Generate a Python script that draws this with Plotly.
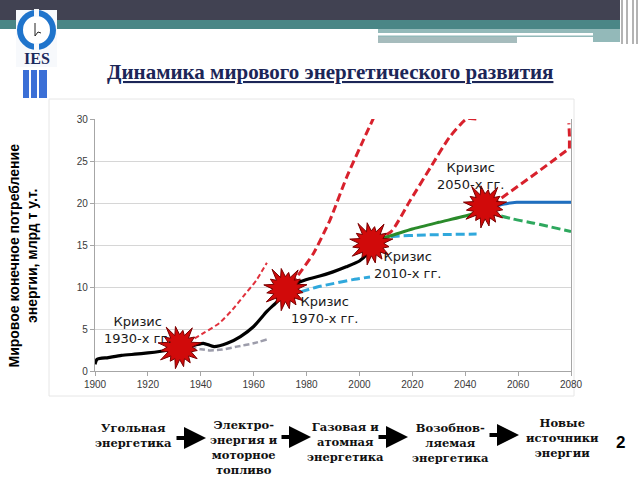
import numpy as np
import plotly.graph_objects as go

# ---------------- data ----------------
x_ticks = [1900, 1920, 1940, 1960, 1980, 2000, 2020, 2040, 2060, 2080]
y_ticks = [0, 5, 10, 15, 20, 25, 30]

main_years = [1900, 1900.8, 1905, 1910, 1915, 1920, 1925, 1930, 1935, 1938, 1941, 1945, 1950,
              1955, 1960, 1965, 1969, 1972, 1976, 1980, 1985, 1990, 1995, 2000, 2003, 2005]
main_vals = [0.8, 1.4, 1.6, 1.85, 2.0, 2.15, 2.35, 2.6, 2.9, 3.1, 3.3, 2.9, 3.3,
             4.1, 5.3, 7.1, 8.3, 9.4, 10.4, 10.9, 11.3, 11.8, 12.4, 13.1, 14.0, 15.0]

red1930_years = [1935, 1941, 1947, 1952, 1956, 1961, 1965]
red1930_vals = [3.4, 4.5, 5.7, 7.3, 8.85, 10.8, 12.9]

gray1930_years = [1936, 1940, 1943.5, 1948, 1953.6, 1960, 1965]
gray1930_vals = [2.85, 2.6, 2.45, 2.55, 2.9, 3.3, 3.75]

red1970_years = [1974, 1976.3, 1982.6, 1988.9, 1995.2, 2001.5, 2005.3]
red1970_vals = [10.3, 11.2, 14.0, 18.0, 23.1, 27.5, 30.1]

blue1970_years = [1973, 1977.5, 1984, 1990, 1997, 2004]
blue1970_vals = [9.0, 9.4, 10.0, 10.4, 10.85, 11.2]

red2010_years = [2006, 2012, 2019, 2027, 2034, 2040.5, 2044.5]
red2010_vals = [15.6, 16.6, 20.2, 24.3, 27.8, 30.0, 30.0]

blue2010_years = [2007, 2012, 2025, 2044.3]
blue2010_vals = [15.8, 16.0, 16.2, 16.3]

green_years = [2005, 2011.6, 2020, 2030, 2041.8, 2047]
green_vals = [15.5, 16.07, 16.9, 17.7, 18.6, 19.2]

red2050_years = [2050, 2054.4, 2067, 2079.4, 2079.4, 2079.2]
red2050_vals = [19.8, 20.75, 23.6, 26.5, 28.0, 29.5]

blue2050_years = [2048, 2053.2, 2056, 2059.5, 2070, 2080]
blue2050_vals = [19.6, 19.76, 19.95, 20.08, 20.1, 20.1]

gdash2050_years = [2049, 2052, 2058, 2066, 2080]
gdash2050_vals = [19.0, 18.6, 18.1, 17.6, 16.6]

crisis_years = [1932, 1972, 2004.5, 2047.5]
crisis_vals = [2.85, 9.75, 15.2, 19.6]
crisis_labels = ["Кризис<br>1930-х гг.", "Кризис<br>1970-х гг.",
                 "Кризис<br>2010-х гг.", "Кризис<br>2050-х гг."]

stages = ["Угольная<br>энергетика",
          "Электро-<br>энергия и<br>моторное<br>топливо",
          "Газовая и<br>атомная<br>энергетика",
          "Возобнов-<br>ляемая<br>энергетика",
          "Новые<br>источники<br>энергии"]

title_text = "Динамика мирового энергетического развития"
ytitle_lines = ["Мировое конечное потребление", "энергии, млрд т у.т."]
page_number = "2"

# ---------------- geometry helpers ----------------
W, H = 640, 480
L, R, T, B = 95, 571, 119, 371
XMIN, XMAX, YMIN, YMAX = 1900, 2080, 0, 30
px_per_year = (R - L) / (XMAX - XMIN)
px_per_unit = (B - T) / (YMAX - YMIN)


def PX(px):
    return (px - L) / (R - L)


def PY(py):
    return (B - py) / (B - T)


fig = go.Figure()


def line(xs, ys, color, width, dash=None, smooth=True):
    fig.add_trace(go.Scatter(x=xs, y=ys, mode="lines",
                             line=dict(color=color, width=width, dash=dash,
                                       shape="spline" if smooth else "linear", smoothing=0.6),
                             hoverinfo="skip", showlegend=False))


line(gray1930_years, gray1930_vals, "#9d9dab", 2.5, "6px,3px")
line(red1930_years, red1930_vals, "#e0313c", 2, "5px,3px")
line(blue1970_years, blue1970_vals, "#30a8dc", 3, "9px,4px")
line(red1970_years, red1970_vals, "#d8212c", 3, "8px,4px")
line(blue2010_years, blue2010_vals, "#30a8dc", 3, "9px,4px")
line(red2010_years, red2010_vals, "#d8212c", 3, "8px,4px")
line(green_years, green_vals, "#2a8a2a", 3)
line(red2050_years, red2050_vals, "#d8212c", 3, "8px,4px", smooth=False)
line(gdash2050_years, gdash2050_vals, "#2ea85e", 3, "9px,4px")
line(blue2050_years, blue2050_vals, "#1f6fc0", 3)
line(main_years, main_vals, "#000000", 3.2)

# starbursts
outer = [22, 18, 23, 17, 21, 24, 18, 22, 19, 23, 17, 22, 20, 19, 21, 18]
inner = 12.5
n = len(outer)
for cy, cv in zip(crisis_years, crisis_vals):
    xs, ys = [], []
    for k in range(2 * n):
        a = np.pi * k / n + 0.2
        r = outer[k // 2] if k % 2 == 0 else inner
        xs.append(cy + r * np.cos(a) / px_per_year)
        ys.append(cv + r * np.sin(a) / px_per_unit)
    xs.append(xs[0]); ys.append(ys[0])
    fig.add_trace(go.Scatter(x=xs, y=ys, mode="lines", fill="toself", fillcolor="#d10a0a",
                             line=dict(color="#7a0000", width=1), hoverinfo="skip", showlegend=False))

annotations = []
label_px = [(137, 330), (324, 310), (407, 265), (470, 176)]
for txt, (lx, ly) in zip(crisis_labels, label_px):
    annotations.append(dict(x=PX(lx), y=PY(ly), xref="paper", yref="paper", text=txt, showarrow=False,
                            font=dict(family="DejaVu Sans", size=13, color="#1a1a1a"),
                            xanchor="center", yanchor="middle", align="center"))

# title
annotations.append(dict(x=PX(330), y=PY(72), xref="paper", yref="paper",
                        text="<b><u>" + title_text + "</u></b>", showarrow=False,
                        font=dict(family="Liberation Serif, Times New Roman", size=21, color="#1c2657"),
                        xanchor="center", yanchor="middle"))

# y title
for txt, cx in zip(ytitle_lines, [13.5, 32]):
    annotations.append(dict(x=PX(cx), y=PY(256), xref="paper", yref="paper", text="<b>" + txt + "</b>",
                            showarrow=False, textangle=-90,
                            font=dict(family="Liberation Sans, Arial", size=14, color="#000000"),
                            xanchor="center", yanchor="middle"))

# stage texts
stage_pos = [(133, 435.5), (244, 447), (345, 442), (450, 443.5), (562, 438)]
for t, (sx, sy) in zip(stages, stage_pos):
    annotations.append(dict(x=PX(sx), y=PY(sy), xref="paper", yref="paper", text="<b>" + t + "</b>",
                            showarrow=False, align="center",
                            font=dict(family="DejaVu Serif", size=11.5, color="#111111"),
                            xanchor="center", yanchor="middle"))

# arrows
for tipx, tipy in [(206, 438), (311, 437), (408, 437), (519, 435)]:
    annotations.append(dict(x=PX(tipx), y=PY(tipy), xref="paper", yref="paper", ax=-31, ay=0,
                            text="", showarrow=True, arrowhead=2, arrowsize=1.1, arrowwidth=4,
                            arrowcolor="#000000"))

annotations.append(dict(x=PX(620), y=PY(443), xref="paper", yref="paper", text="<b>" + page_number + "</b>",
                        showarrow=False, font=dict(family="Liberation Sans, Arial", size=17, color="#000000"),
                        xanchor="center", yanchor="middle"))

annotations.append(dict(x=PX(36.5), y=PY(59), xref="paper", yref="paper", text="<b>IES</b>",
                        showarrow=False, font=dict(family="Liberation Serif, Times New Roman", size=16,
                                                   color="#1b2a5c"),
                        xanchor="center", yanchor="middle"))

shapes = []


def rect(x0, y0, x1, y1, fill, line_color=None, lw=0):
    shapes.append(dict(type="rect", xref="paper", yref="paper",
                       x0=PX(x0), x1=PX(x1), y0=PY(y1), y1=PY(y0),
                       fillcolor=fill, line=dict(width=lw, color=line_color or fill), layer="above"))


# header
rect(0, 0, 620, 20, "#414252")
rect(0, 20, 620, 29, "#4a8686")
rect(378, 29, 620, 37, "#93b9b9")
rect(378, 33, 593, 35.5, "#ffffff")
rect(378, 37, 517, 43, "#a6bcbd")
rect(593, 37, 620, 42, "#93b9b9")
for vx in [622, 627, 633, 637]:
    shapes.append(dict(type="line", xref="paper", yref="paper", x0=PX(vx), x1=PX(vx), y0=PY(0), y1=PY(44),
                       line=dict(color="#9a9a9a", width=1.5), layer="above"))

# chart frame
shapes.append(dict(type="rect", xref="paper", yref="paper", x0=PX(49), x1=PX(574), y0=PY(396), y1=PY(99),
                   fillcolor="rgba(0,0,0,0)", line=dict(color="#e6e6e6", width=1), layer="below"))

# logo
rect(16, 10, 57, 67, "#f7f9fc")
shapes.append(dict(type="circle", xref="paper", yref="paper", x0=PX(20), x1=PX(53), y0=PY(47), y1=PY(13),
                   line=dict(color="#1f74cc", width=6), fillcolor="#ffffff", layer="above"))
rect(34, 9, 39, 17, "#f7f9fc")
rect(34, 43, 39, 51, "#f7f9fc")
shapes.append(dict(type="path", xref="paper", yref="paper",
                   path=f"M {PX(35)} {PY(23)} L {PX(35)} {PY(36)} L {PX(38)} {PY(32)} L {PX(41)} {PY(33)}",
                   line=dict(color="#222222", width=1), layer="above"))
rect(23, 70, 29, 98, "#3b6fd6")
rect(31, 70, 37, 98, "#3b6fd6")
rect(39, 70, 47, 98, "#3b6fd6")

fig.update_layout(
    width=W, height=H,
    margin=dict(l=L, r=W - R, t=T, b=H - B),
    paper_bgcolor="#ffffff", plot_bgcolor="#ffffff",
    showlegend=False,
    xaxis=dict(range=[XMIN, XMAX], tickvals=x_ticks, showgrid=False, zeroline=False,
               showline=True, linecolor="#a6a6a6", linewidth=1.2, ticks="outside", ticklen=4,
               tickcolor="#a6a6a6", tickfont=dict(family="Liberation Sans, Arial", size=10, color="#3a3a3a")),
    yaxis=dict(range=[YMIN, YMAX], tickvals=y_ticks, showgrid=True, gridcolor="#d6d6d6", zeroline=False,
               showline=True, mirror=True, linecolor="#a6a6a6", linewidth=1.2, ticks="outside", ticklen=4,
               tickcolor="#a6a6a6", tickfont=dict(family="Liberation Sans, Arial", size=10, color="#3a3a3a")),
    annotations=annotations,
    shapes=shapes,
)

fig.write_html("out.html")
